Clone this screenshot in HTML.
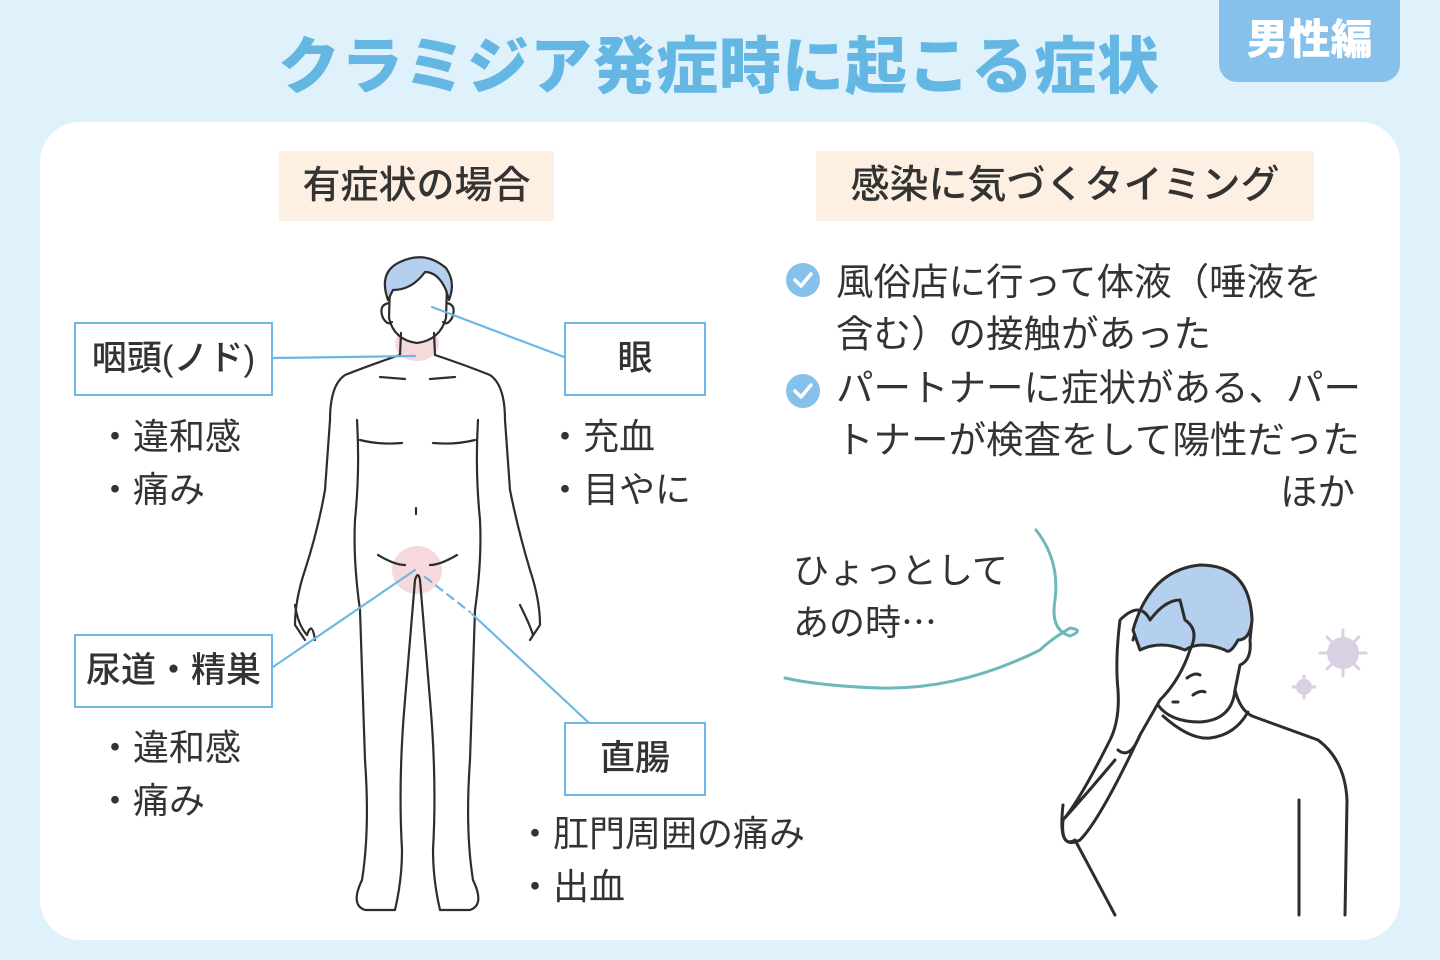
<!DOCTYPE html>
<html><head><meta charset="utf-8">
<style>
body{margin:0;width:1440px;height:960px;background:#dff1fb;position:relative;overflow:hidden;font-family:"Liberation Sans","Noto Sans CJK JP",sans-serif;color:#333;}
.abs{position:absolute;white-space:nowrap;}
.title{left:278px;top:16px;font-size:62px;font-weight:900;color:#64b7e3;letter-spacing:1px;}
.badge{left:1219px;top:0;width:181px;height:82px;background:#86c1ec;border-radius:0 0 18px 18px;color:#fff;font-size:42px;font-weight:900;text-align:center;line-height:80px;}
.card{left:40px;top:122px;width:1360px;height:818px;background:#fff;border-radius:40px;}
.hd{background:#fdf0e3;font-weight:500;text-align:center;height:70px;line-height:70px;}
.box{border:2px solid #6db7e6;background:#fff;font-size:35px;text-align:center;font-weight:500;}
.t{font-size:36px;}
.r{font-size:37.5px;}
</style></head><body>
<div class="abs title">クラミジア発症時に起こる症状</div>
<div class="abs badge">男性編</div>
<div class="abs card"></div>
<div class="abs hd" style="left:279px;top:151px;width:275px;font-size:38px;">有症状の場合</div>
<div class="abs hd" style="left:816px;top:151px;width:498px;font-size:39px;">感染に気づくタイミング</div>

<svg class="abs" style="left:0;top:0" width="1440" height="960" fill="none" stroke-linecap="round" stroke-linejoin="round">
<ellipse cx="431" cy="307" rx="13" ry="9" fill="#f6d9dc"/>
<ellipse cx="417" cy="344" rx="22" ry="17" fill="#f6d9dc"/>
<ellipse cx="417" cy="570" rx="25" ry="24" fill="#f6d9dc"/>
<g stroke="#2d2d2d" stroke-width="2.2">
<path d="M390 285 Q392 262 415 262 Q440 262 447 285 L446 318 Q440 340 417 343 Q394 340 389 318 Z" fill="#fff"/>
<path d="M389 303 Q378 305 383 318 Q388 326 392 322"/><path d="M447 303 Q457 305 452 318 Q447 326 443 322"/>
<path d="M388 300 Q378 272 400 262 Q425 250 446 268 Q456 282 449 300 L446 290 Q438 272 425 272 Q412 290 393 290 Z" fill="#b5cfee"/>
<path d="M401 333 L400 355 Q370 365 345 375 Q330 385 330 420 L325 490 Q318 530 305 570 Q295 600 295 625 L305 640 M434 333 L435 355 Q465 365 490 375 Q505 385 505 420 L510 490 Q518 530 530 570 Q540 600 540 625 L530 640"/>
<path d="M295 605 Q298 625 307 635 Q312 620 315 640 M520 605 Q530 625 533 635"/>
<path d="M357 420 Q360 470 355 520 Q353 560 360 610 Q362 680 365 760 Q370 830 362 880 Q350 905 365 910 L395 910 Q402 880 402 850 Q398 780 405 700 L415 580 M478 420 Q475 470 480 520 Q482 560 475 610 Q473 680 470 760 Q465 830 473 880 Q485 905 470 910 L440 910 Q433 880 433 850 Q437 780 430 700 L420 580 Q418 570 415 580"/>
<path d="M378 555 Q395 565 405 565 M430 565 Q440 565 457 555 M360 440 Q380 445 402 443 M433 443 Q455 445 475 440 M380 377 L405 379 M430 379 L455 377 M416 508 L416 514"/>
</g>
<g stroke="#6db7e6" stroke-width="2.2">
<line x1="273" y1="358" x2="415" y2="356"/>
<line x1="432" y1="307" x2="564" y2="357"/>
<line x1="273" y1="667" x2="415" y2="570"/>
<line x1="425" y1="577" x2="470" y2="612" stroke-dasharray="8 6"/>
<line x1="472" y1="614" x2="588" y2="722"/>
</g>
<circle cx="803" cy="280" r="17" fill="#86c1ec"/><path d="M795 280 L801 286 L811 274" stroke="#fff" stroke-width="3.5" fill="none"/>
<circle cx="803" cy="391" r="17" fill="#86c1ec"/><path d="M795 391 L801 397 L811 385" stroke="#fff" stroke-width="3.5" fill="none"/>
<path d="M1036 530 Q1060 560 1055 600 Q1050 630 1070 636 Q1085 630 1070 628 Q1050 640 1040 650 Q960 690 880 688 Q820 686 785 678" stroke="#6db8b8" stroke-width="3"/>
<g stroke="#2d2d2d" stroke-width="3">
<path d="M1133 640 Q1150 575 1200 568 Q1250 570 1252 620 L1250 640 Q1252 660 1240 665 L1235 690 Q1240 710 1252 716 L1318 740 Q1345 760 1347 800 L1345 915" fill="#fff"/>
<path d="M1133 630 Q1150 570 1200 565 Q1250 565 1252 620 Q1250 640 1238 640 Q1230 655 1225 650 Q1200 640 1185 650 Q1160 640 1140 650 Z" fill="#b5cfee"/>
<path d="M1235 690 Q1232 720 1200 722 Q1170 722 1158 705"/>
<path d="M1163 716 Q1190 740 1210 738 Q1235 735 1248 712"/>
<path d="M1115 760 Q1090 790 1063 820 Q1060 850 1080 840 Q1100 820 1140 735 L1160 700 Q1180 680 1190 650 Q1200 630 1185 620 L1180 600 Q1165 600 1150 620 Q1140 600 1120 620 Q1115 660 1118 690 Q1120 720 1110 740 Q1080 800 1063 820"/>
<path d="M1063 805 Q1058 850 1075 840 L1115 915 M1299 800 L1299 915 M1118 750 Q1130 760 1140 735"/>
<path d="M1187 678 Q1195 672 1200 675 M1193 695 Q1200 690 1205 692 M1173 702 L1178 702"/>
</g>
<circle cx="1343" cy="653" r="16" fill="#d9d0e4"/><circle cx="1304" cy="687" r="8" fill="#d9d0e4"/>
<g stroke="#d9d0e4" stroke-width="3"><path d="M1343 630V676M1320 653H1366M1327 637L1359 669M1359 637L1327 669M1304 676V698M1293 687H1315"/></g>
</svg>

<div class="abs box" style="left:74px;top:322px;width:195px;height:70px;line-height:70px;">咽頭(ノド)</div>
<div class="abs box" style="left:564px;top:322px;width:138px;height:70px;line-height:70px;">眼</div>
<div class="abs box" style="left:74px;top:634px;width:195px;height:70px;line-height:70px;">尿道・精巣</div>
<div class="abs box" style="left:564px;top:722px;width:138px;height:70px;line-height:70px;">直腸</div>

<div class="abs t" style="left:97px;top:410px;line-height:53px;">・違和感<br>・痛み</div>
<div class="abs t" style="left:547px;top:410px;line-height:53px;">・充血<br>・目やに</div>
<div class="abs t" style="left:97px;top:721px;line-height:53px;">・違和感<br>・痛み</div>
<div class="abs t" style="left:517px;top:807px;line-height:53px;">・肛門周囲の痛み<br>・出血</div>

<div class="abs r" style="left:836px;top:256px;line-height:52px;">風俗店に行って体液（唾液を<br>含む）の接触があった<br></div>
<div class="abs r" style="left:836px;top:362px;line-height:52px;">パートナーに症状がある、パー<br>トナーが検査をして陽性だった</div>
<div class="abs r" style="left:1280px;top:466px;line-height:52px;">ほか</div>
<div class="abs t" style="left:793px;top:545px;line-height:52px;">ひょっとして<br>あの時⋯</div>
</body></html>
